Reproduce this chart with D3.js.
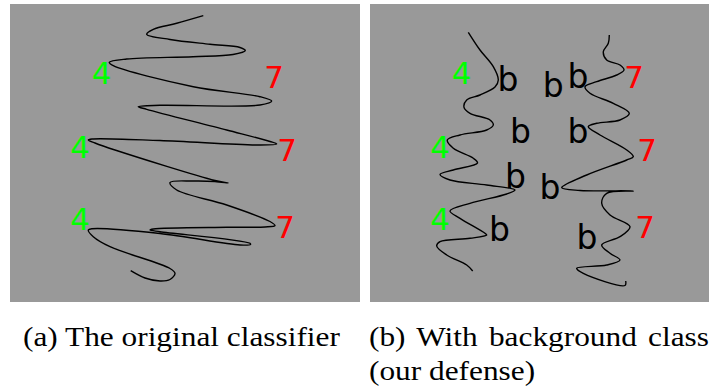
<!DOCTYPE html>
<html>
<head>
<meta charset="utf-8">
<script src="https://cdn.jsdelivr.net/npm/d3@7"></script>
<style>
  html, body { margin: 0; padding: 0; background: #ffffff; }
  svg { display: block; }
  .caption { font-family: "Liberation Serif", "Times New Roman", serif; }
  .marker { font-family: "DejaVu Sans", sans-serif; }
</style>
</head>
<body>
<svg id="chart" width="709" height="386"></svg>
<script>
// Decision-boundary trace of the original classifier (panel units)
const boundaryOriginal = [
  [193.3,11.7],[166.7,19.3],[143.3,25.3],[136.7,30.3],[160,35.5],[200,40.3],[230,43.5],[235.3,46.7],
  [223,50.5],[183,52.7],[116.7,55],[99.3,58.3],[103.3,61.7],[183.3,82.7],[250,92.7],[261.7,97],
  [250,101],[150,101.3],[128.3,102.7],[136.7,105.3],[216.7,126],[260,137.5],[266.7,140],[250,141],
  [150,136.5],[82,135],[78.3,136],[85,139],[105,146],[205,176.5],[218.3,179],[205,177.5],
  [183.3,177],[160,178.5],[166.7,186],[216.7,201],[260,217.5],[265,221.5],[255,223],[216.7,223.3],
  [143.3,225],[140,226],[150,227.7],[240,239.3],[240.5,240.5],[230,241],[150,229.5],[82,224.7],
  [78.3,226],[83.3,232.7],[100,242.7],[160,264.5],[165,269.3],[160,275.5],[150,277],[135,274],[120.7,266.7]
];

// Boundaries with the background class: between "4" and "b", and between "b" and "7"
const boundaryDefenseLeft = [
  [98.3,28.3],[110,46],[123.3,62.7],[128.3,76],[125,83],[110,91],[96.7,96],[94,103.3],
  [100,109.3],[120,116],[123.3,121],[116.7,126],[90,131],[77.3,136],[83.3,144.3],[103.3,154.3],
  [107.5,159],[83.3,166],[70,170.5],[80,176],[116.7,181],[145,186],[136.7,190],[100,199.3],
  [80,207],[90,214.3],[115,229.3],[116.7,231],[100,234.3],[70,237.7],[66.7,242],[76.7,251],
  [96.7,261],[102.7,267]
];
const boundaryDefenseRight = [
  [239.3,31],[238.3,39.3],[233.3,47.7],[236.7,56],[250,61],[254,66],[246.7,71],[226.7,77.7],
  [215,82.7],[220,89.3],[243.3,99.3],[259.3,109.3],[250,116],[226.7,119.3],[218.3,122.7],[230,131],
  [256.7,146],[263.3,152.7],[256.7,156],[216.7,171],[191.7,183.7],[210,186.5],[263.3,187],[236.7,189.3],
  [231.7,199.3],[240,211],[260,222.7],[250,232.7],[231.7,241],[240,249.3],[250,256],[236.7,261],
  [206.7,264.3],[213.3,269.3],[255,281.5],[255.7,277]
];

// Class markers (x, y, label) shared by both panels
const classFour = [[91.5,80,"4"],[70,154,"4"],[70,226,"4"]];
const classSeven = [[264,84,"7"],[277,156.5,"7"],[275,234,"7"]];
// Background-class markers in the defended model
const classBackground = [
  [138,87,"b"],[183.3,93,"b"],[208,84,"b"],[150.5,139,"b"],[208,139,"b"],
  [145.5,183.5,"b"],[180,195,"b"],[129.5,236.5,"b"],[217,245,"b"]
];

const captionA = ["(a) The original classifier"];
const captionB = ["(b) With background class", "(our defense)"];

const svg = d3.select("#chart");

const panelW = 350, panelH = 298;
const panels = [
  { x0: 10, y0: 4, w: 350, curves: [boundaryOriginal], bs: [] },
  { x0: 370, y0: 4, w: 339, curves: [boundaryDefenseLeft, boundaryDefenseRight], bs: classBackground }
];

panels.forEach((p, i) => {
  const x = d3.scaleLinear().domain([0, panelW]).range([p.x0, p.x0 + panelW]);
  const y = d3.scaleLinear().domain([0, panelH]).range([p.y0, p.y0 + panelH]);

  const clipId = "clip" + i;
  svg.append("clipPath").attr("id", clipId)
    .append("rect").attr("x", p.x0).attr("y", p.y0).attr("width", p.w).attr("height", panelH);

  const g = svg.append("g").attr("clip-path", `url(#${clipId})`);
  g.append("rect")
    .attr("x", p.x0).attr("y", p.y0).attr("width", p.w).attr("height", panelH)
    .attr("fill", "#999999");

  const line = d3.line()
    .x(d => x(d[0])).y(d => y(d[1]))
    .curve(d3.curveCatmullRom.alpha(0.5));

  g.selectAll("path.boundary").data(p.curves).join("path")
    .attr("class", "boundary")
    .attr("d", line)
    .attr("fill", "none")
    .attr("stroke", "#000")
    .attr("stroke-width", 1.4)
    .attr("stroke-linejoin", "round");

  const drawLabels = (data, color, size) => {
    g.append("g").selectAll("text").data(data).join("text")
      .attr("class", "marker")
      .attr("x", d => x(d[0])).attr("y", d => y(d[1]))
      .attr("text-anchor", "middle")
      .attr("font-size", size)
      .attr("fill", color)
      .text(d => d[2]);
  };
  drawLabels(classFour, "#00ff00", 31);
  drawLabels(classSeven, "#ff0000", 31);
  drawLabels(p.bs, "#000000", 33);
});

// Captions below the panels, serif
const capSize = 28;
const capA = svg.append("text")
  .attr("class", "caption").attr("font-size", capSize).attr("fill", "#000")
  .text(captionA[0]);
const k = 317 / capA.node().getComputedTextLength();
capA.attr("transform", `translate(23,346) scale(${k},1)`);

captionB.forEach((t, j) => {
  const txt = svg.append("text")
    .attr("class", "caption").attr("font-size", capSize).attr("fill", "#000")
    .attr("transform", `translate(369,${346 + j * 34}) scale(${k},1)`)
    .text(t);
  if (j === 0) {
    // first line of the wrapped caption is justified: stretch its word gaps
    const target = 340 / k;
    const extra = target - txt.node().getComputedTextLength();
    const gaps = t.split(" ").length - 1;
    if (extra > 0) txt.attr("word-spacing", extra / gaps);
  }
});
</script>
</body>
</html>
